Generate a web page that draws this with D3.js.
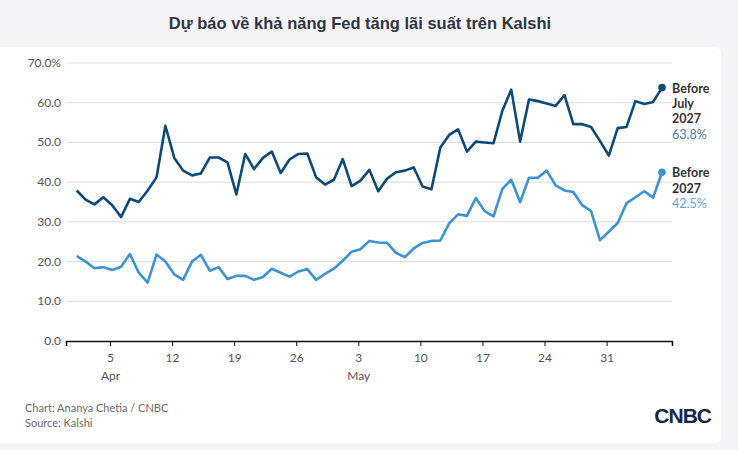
<!DOCTYPE html>
<html>
<head>
<meta charset="utf-8">
<script src="https://cdn.jsdelivr.net/npm/d3@7"></script>
<style>
  html, body { margin: 0; padding: 0; background: #f5f5f7; }
  svg { display: block; }
</style>
</head>
<body>
<svg id="chart" width="738" height="450"></svg>
<script>
// Kalshi odds, one reading a day from Apr 1 to Jun 6
const firstDay = new Date(2026, 3, 1, 6);
const beforeJuly2027 = [
  37.9, 35.6, 34.4, 36.2, 34.2, 31.2, 35.8, 35.0, 37.9, 41.2,
  54.2, 46.1, 42.9, 41.7, 42.2, 46.2, 46.2, 45.0, 36.9, 47.1,
  43.3, 46.1, 47.7, 42.3, 45.7, 47.1, 47.2, 41.2, 39.4, 40.6,
  45.8, 39.0, 40.4, 43.1, 37.7, 40.9, 42.5, 42.9, 43.7, 38.9,
  38.2, 48.7, 51.9, 53.3, 47.7, 50.2, 50.0, 49.8, 58.0, 63.3,
  50.2, 60.8, 60.4, 59.8, 59.2, 61.9, 54.6, 54.6, 53.9, 50.4,
  46.7, 53.6, 53.9, 60.4, 59.7, 60.2, 63.8
];
const before2027 = [
  21.4, 20.0, 18.3, 18.6, 17.9, 18.7, 21.9, 17.2, 14.7, 21.8,
  20.0, 16.8, 15.4, 20.0, 21.7, 17.7, 18.6, 15.6, 16.4, 16.4,
  15.4, 16.1, 18.2, 17.2, 16.2, 17.5, 18.1, 15.4, 16.9, 18.2,
  20.2, 22.5, 23.1, 25.2, 24.8, 24.7, 22.2, 21.1, 23.3, 24.7,
  25.2, 25.3, 29.6, 31.9, 31.5, 36.0, 32.7, 31.4, 38.3, 40.6,
  35.0, 41.1, 41.1, 42.9, 39.2, 37.9, 37.5, 34.2, 32.7, 25.4,
  27.5, 29.7, 34.7, 36.2, 37.7, 36.1, 42.5
];
const yTicks = [0, 10, 20, 30, 40, 50, 60, 70];
const xTicks = d3.timeSunday.range(new Date(2026, 3, 1), new Date(2026, 5, 1));
const seriesNames = [["Before", "July", "2027"], ["Before", "2027"]];
const seriesColors = ["#0d4a78", "#3d92d0"];
const valueColors = ["#4a7ea8", "#5aa4d8"];

const dates = beforeJuly2027.map((_, i) => d3.timeDay.offset(firstDay, i));
const series = [beforeJuly2027, before2027];

const svg = d3.select("#chart");
const margin = { top: 63, left: 66, right: 672, bottom: 341 };

// card
svg.append("rect")
  .attr("x", -6).attr("y", 47).attr("width", 727).attr("height", 396)
  .attr("rx", 6).attr("fill", "#fff");

svg.append("text")
  .attr("x", 360).attr("y", 29)
  .attr("text-anchor", "middle")
  .attr("font-family", "'Liberation Sans', Arial, sans-serif")
  .attr("font-weight", 700).attr("font-size", 16.5)
  .attr("fill", "#2f3541")
  .text("Dự báo về khả năng Fed tăng lãi suất trên Kalshi");

const x = d3.scaleTime()
  .domain([new Date(2026, 2, 31, 1), new Date(2026, 5, 7, 9)])
  .range([margin.left, margin.right]);
const y = d3.scaleLinear().domain([0, 70]).range([margin.bottom, margin.top]);

// gridlines + y labels
const yg = svg.append("g").attr("font-family", "Lato, sans-serif").attr("font-size", 12);
yg.selectAll("line").data(yTicks.filter(d => d > 0)).join("line")
  .attr("x1", 67).attr("x2", margin.right)
  .attr("y1", d => y(d)).attr("y2", d => y(d))
  .attr("stroke", "#dcdcdc").attr("stroke-width", 1);
yg.selectAll("text").data(yTicks).join("text")
  .attr("x", 61).attr("y", d => y(d) + 4)
  .attr("text-anchor", "end").attr("fill", "#555")
  .text(d => d === 70 ? d3.format(".1f")(d) + "%" : d3.format(".1f")(d));

// x axis
const xAxis = d3.axisBottom(x)
  .tickValues(xTicks)
  .tickSize(5).tickPadding(7)
  .tickFormat(d3.timeFormat("%-d"));
const xg = svg.append("g").attr("transform", `translate(0,${margin.bottom})`).call(xAxis);
xg.select(".domain").attr("stroke", "#111").attr("stroke-width", 1.5);
xg.selectAll(".tick line").attr("stroke", "#111");
xg.selectAll(".tick text").attr("font-family", "Lato, sans-serif").attr("font-size", 12).attr("fill", "#555");
xg.selectAll(".tick").filter((d, i) => i === 0 || d.getMonth() !== xTicks[i - 1].getMonth())
  .append("text")
  .attr("y", 39).attr("fill", "#555")
  .attr("font-family", "Lato, sans-serif").attr("font-size", 12)
  .text(d => d3.timeFormat("%b")(d));

// lines
const line = d3.line().x((d, i) => x(dates[i])).y(d => y(d));
series.forEach((s, k) => {
  svg.append("path").datum(s)
    .attr("fill", "none").attr("stroke", seriesColors[k])
    .attr("stroke-width", 2.6).attr("stroke-linejoin", "round")
    .attr("d", line);
  const last = s.length - 1;
  svg.append("circle")
    .attr("cx", x(dates[last])).attr("cy", y(s[last])).attr("r", 3.8)
    .attr("fill", seriesColors[k]);
  const lab = svg.append("text")
    .attr("x", 672).attr("y", y(s[last]) + 5)
    .attr("font-family", "Lato, sans-serif").attr("font-size", 12.5);
  seriesNames[k].forEach((t, j) => {
    lab.append("tspan").attr("x", 672).attr("dy", j === 0 ? 0 : 15.3)
      .attr("font-weight", 700).attr("fill", "#333").text(t);
  });
  lab.append("tspan").attr("x", 672).attr("dy", 15.3)
    .attr("fill", valueColors[k]).text(d3.format(".1f")(s[last]) + "%");
});

// footer
const ft = svg.append("g").attr("font-family", "Lato, sans-serif").attr("font-size", 11).attr("fill", "#6b6b6b");
ft.append("text").attr("x", 25).attr("y", 412).text("Chart: Ananya Chetia / CNBC");
ft.append("text").attr("x", 25).attr("y", 427).text("Source: Kalshi");

svg.append("text")
  .attr("x", 711).attr("y", 423).attr("text-anchor", "end")
  .attr("font-family", "'Liberation Sans', Arial, sans-serif")
  .attr("font-weight", 700).attr("font-size", 21).attr("letter-spacing", -1)
  .attr("fill", "#15264a")
  .text("CNBC");
</script>
</body>
</html>
